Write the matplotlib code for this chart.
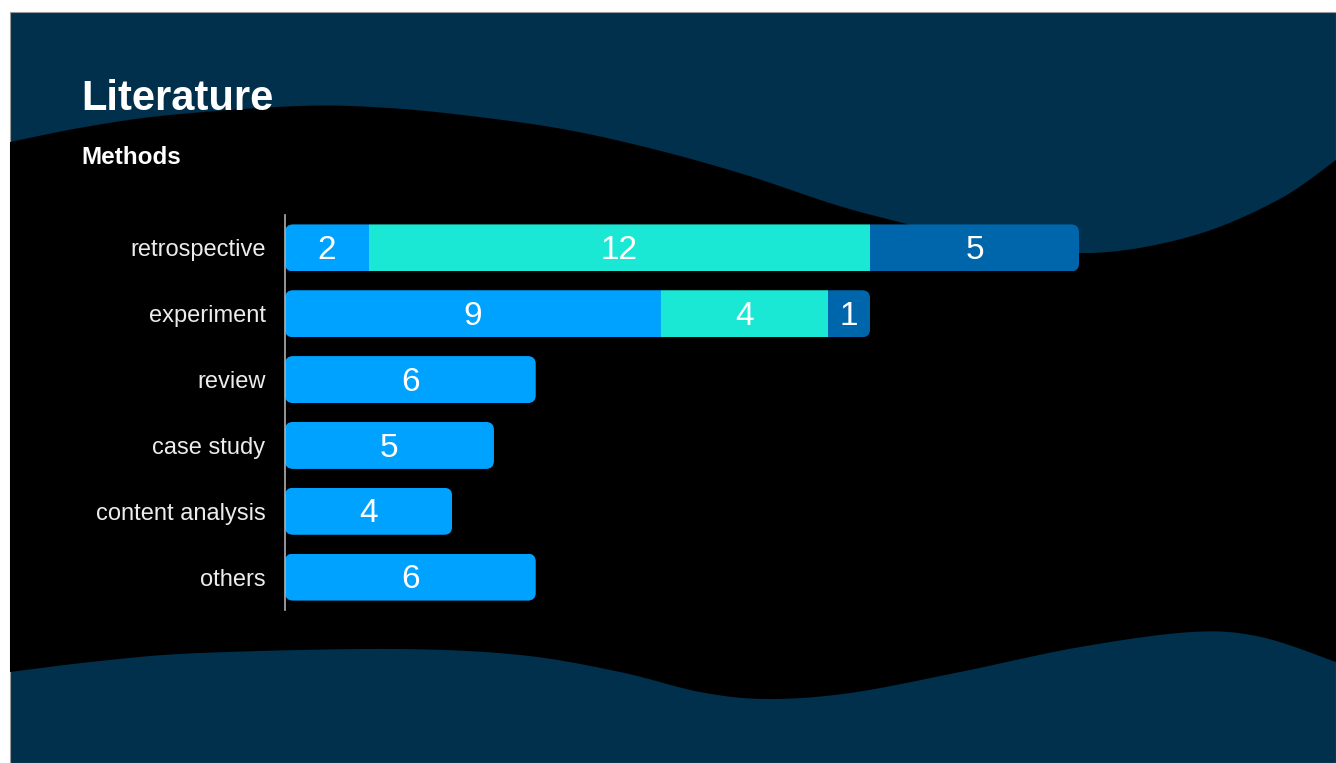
import numpy as np
import matplotlib
matplotlib.use("Agg")
from matplotlib import pyplot as plt
from matplotlib.patches import FancyBboxPatch, Rectangle, Polygon

plt.rcParams['font.family'] = ['Liberation Sans', 'DejaVu Sans']

# data
categories = ["retrospective", "experiment", "review", "case study", "content analysis", "others"]
part_a = [2, 9, 6, 5, 4, 6]
part_b = [12, 4, 0, 0, 0, 0]
part_c = [5, 1, 0, 0, 0, 0]

title = "Literature"
subtitle = "Methods"

navy = "#01304c"
colors = ["#00a2ff", "#1ae8d4", "#0066ab"]

W, H = 1336, 763


def smooth(pts, n=30):
    """catmull-rom through the given points (decoration only)"""
    pts = np.asarray(pts, float)
    p = np.vstack([pts[0], pts, pts[-1]])
    out = []
    for i in range(1, len(p) - 2):
        p0, p1, p2, p3 = p[i - 1], p[i], p[i + 1], p[i + 2]
        t = np.linspace(0, 1, n)[:, None]
        seg = 0.5 * ((2 * p1) + (-p0 + p2) * t + (2 * p0 - 5 * p1 + 4 * p2 - p3) * t ** 2
                     + (-p0 + 3 * p1 - 3 * p2 + p3) * t ** 3)
        out.append(seg)
    return np.vstack(out)


top_wave = [(10, 142), (85, 127), (170, 115), (300, 106), (389, 108), (479, 117),
            (568, 130), (657, 150), (746, 175), (836, 205), (903, 223), (980, 242),
            (1090, 253), (1192, 236), (1278, 200), (1336, 160)]
bottom_wave = [(10, 672), (100, 661), (200, 653), (392, 649), (520, 655), (620, 672),
               (700, 692), (767, 699), (850, 693), (960, 672), (1080, 647), (1192, 632),
               (1261, 637), (1336, 662)]

fig = plt.figure(figsize=(W / 100, H / 100), dpi=100, facecolor="white")

# background panel in pixel coordinates
bg = fig.add_axes([0, 0, 1, 1])
bg.set_xlim(0, W)
bg.set_ylim(H, 0)
bg.axis("off")
bg.add_patch(Rectangle((10, 12), W - 10, H - 12, facecolor=navy, edgecolor="#9a9a9a", lw=0.8))
tw = smooth(top_wave)
bw = smooth(bottom_wave)
poly = np.vstack([tw, bw[::-1]])
bg.add_patch(Polygon(poly, closed=True, facecolor="black", edgecolor="none"))

bg.text(81, 110, title, color="white", fontsize=30, fontweight="bold", va="baseline", ha="left")
bg.text(81, 164, subtitle, color="white", fontsize=17.5, fontweight="bold", va="baseline", ha="left")

# chart axes
px_unit = 794 / 19
left_px, top_px, bot_px = 285, 215, 610
ax = fig.add_axes([left_px / W, (H - bot_px) / H, 20 * px_unit / W, (bot_px - top_px) / H])
ax.set_facecolor("none")
ax.set_xlim(0, 20)
ax.set_ylim(len(categories) - 0.5, -0.5)

y = np.arange(len(categories))
bh = 0.714
totals = np.array(part_a) + np.array(part_b) + np.array(part_c)

r_x = 8 / px_unit
r_y = 8 / ((bot_px - top_px) / len(categories))
clips = []
for i, tot in enumerate(totals):
    p = FancyBboxPatch((0, i - bh / 2), tot, bh, boxstyle=f"round,pad=0,rounding_size={r_x}",
                       mutation_aspect=r_y / r_x, transform=ax.transData)
    clips.append(p)

left = np.zeros(len(categories))
for vals, col in zip([part_a, part_b, part_c], colors):
    vals = np.array(vals)
    bars = ax.barh(y, vals, left=left, height=bh, color=col, edgecolor="none")
    for i, b in enumerate(bars):
        b.set_clip_path(clips[i])
        if vals[i] > 0:
            ax.text(left[i] + vals[i] / 2, i + 0.04, str(vals[i]), color="white",
                    fontsize=24, ha="center", va="center")
    left = left + vals

ax.set_yticks(y)
ax.set_yticklabels(categories, fontsize=17, color="#ececec")
ax.tick_params(axis="y", length=0, pad=14)
ax.set_xticks([])
for s in ["top", "right", "bottom"]:
    ax.spines[s].set_visible(False)
ax.spines["left"].set_color("#b0b0b0")
ax.spines["left"].set_linewidth(1.2)

fig.savefig("out.png", dpi=100, facecolor="white")
